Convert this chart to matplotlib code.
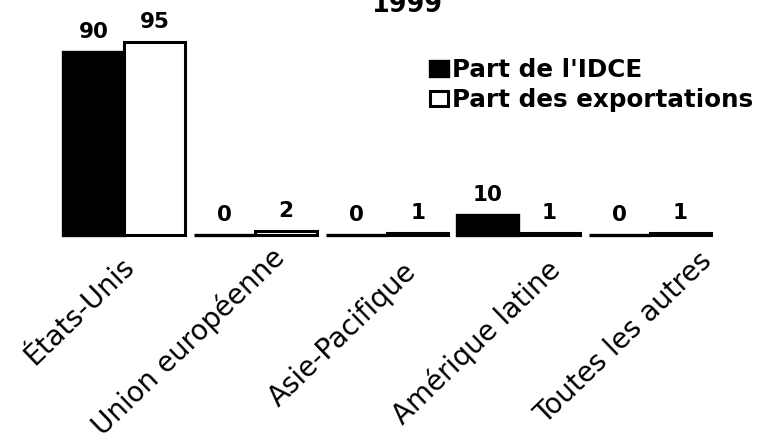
import matplotlib
matplotlib.use("Agg")
import matplotlib.pyplot as plt
import numpy as np

plt.rcParams['font.family'] = ['DejaVu Sans']

# Data
year = "1999"
regions = ["États-Unis", "Union européenne", "Asie-Pacifique",
           "Amérique latine", "Toutes les autres"]
idce_share = [90, 0, 0, 10, 0]
export_share = [95, 2, 1, 1, 1]
series_names = ["Part de l'IDCE", "Part des exportations"]

# Layout
W, H, DPI = 759, 443, 100
fig = plt.figure(figsize=(W / DPI, H / DPI), dpi=DPI)
ax = fig.add_axes([0, 0, 1, 1])
ax.set_xlim(-0.943, 4.829)
ax.set_ylim(-102.3, 115.6)
ax.axis('off')

x = np.arange(len(regions))
bw = 0.465
b1 = ax.bar(x - bw / 2, idce_share, bw, color='black', edgecolor='black',
            linewidth=2.4, label=series_names[0])
b2 = ax.bar(x + bw / 2, export_share, bw, color='white', edgecolor='black',
            linewidth=2.2, label=series_names[1])

for bars, vals in ((b1, idce_share), (b2, export_share)):
    for rect, v in zip(bars, vals):
        ax.annotate(f"{v}", (rect.get_x() + rect.get_width() / 2, v),
                    xytext=(0, 7), textcoords='offset points',
                    ha='center', va='bottom', fontsize=15.5, fontweight='bold')

# Rotated category labels
label_anchor_px = [(120, 252), (270, 242), (403, 257), (546, 255), (698, 247)]
for name, (px, py) in zip(regions, label_anchor_px):
    fig.text(px / W, 1 - py / H, name, rotation=44, rotation_mode='anchor',
             ha='right', va='top', fontsize=20)

fig.text(407 / W, 1 - 12 / H, year, ha='center', va='baseline',
         fontsize=18.4, fontweight='bold')

fig.legend(handles=[b1, b2], labels=series_names, loc='upper left',
           bbox_to_anchor=(430 / W, 1 - 58 / H), frameon=False,
           handlelength=0.73, handleheight=0.57, handletextpad=0.16,
           labelspacing=0.25, borderpad=0, borderaxespad=0,
           prop={'weight': 'bold', 'size': 17.7})

fig.savefig("out.png", dpi=DPI)
